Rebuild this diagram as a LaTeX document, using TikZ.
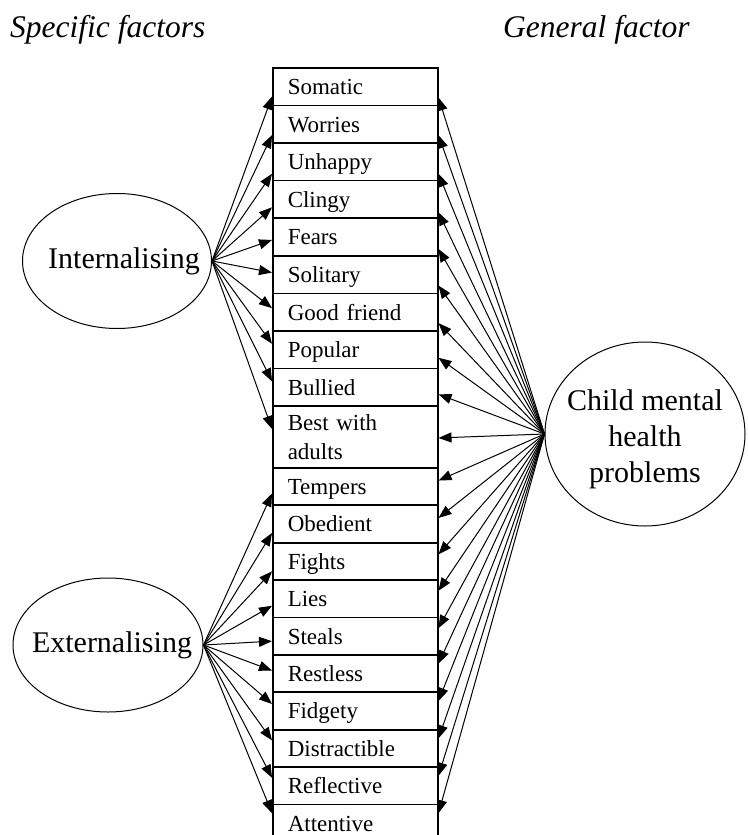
\documentclass[tikz,border=0pt]{standalone}
\usepackage{fontspec}
\setmainfont{Liberation Serif}
\usetikzlibrary{shapes.geometric,arrows.meta}

\tikzset{
  item/.style={draw, line width=1.5pt, rectangle, anchor=north west, text width=135pt,
    inner xsep=15pt, inner ysep=0pt, minimum height=37.6pt, align=left,
    text height=16pt, text depth=0pt, font=\fontsize{23}{29}\selectfont},
  factor/.style={draw, line width=1pt, ellipse, inner sep=0pt},
  factortext/.style={align=center, font=\fontsize{30}{36}\selectfont},
  load/.style={line width=1pt, -{Triangle[length=13pt,width=10pt]}},
  heading/.style={anchor=base west, inner sep=0pt, font=\fontsize{31.5}{32}\selectfont\itshape},
}

\begin{document}
\begin{tikzpicture}[x=1pt,y=-1pt]

\clip (0,0) rectangle (747,835);

% headings
\node[heading] (spec) at (10,37) {Specific factors};
\node[heading] (gen) at (503,37) {General factor};

% latent factors
\node[factor, minimum width=189pt, minimum height=135pt,
  label={[factortext, xshift=7pt]center:Internalising}] (int) at (117,261) {};
\node[factor, minimum width=190pt, minimum height=134pt,
  label={[factortext, xshift=4pt]center:Externalising}] (ext) at (108,645) {};
\node[factor, minimum width=200pt, minimum height=184pt,
  label={[factortext, yshift=-5pt]center:Child mental\\health\\problems}] (cmh) at (645,434) {};

% items
\node[item] (som) at (272,67) {Somatic};
\node[item] (wor) at (272,104.6) {Worries};
\node[item] (unh) at (272,142.2) {Unhappy};
\node[item] (cli) at (272,179.8) {Clingy};
\node[item] (fea) at (272,217.4) {Fears};
\node[item] (sol) at (272,255) {Solitary};
\node[item] (goo) at (272,292.6) {Good friend};
\node[item] (pop) at (272,330.2) {Popular};
\node[item] (bul) at (272,367.8) {Bullied};
\node[item, minimum height=61.6pt, text depth=29pt] (bes) at (272,405.4) {Best with\\adults};
\node[item] (tem) at (272,467) {Tempers};
\node[item] (obe) at (272,504.4) {Obedient};
\node[item] (fig) at (272,541.8) {Fights};
\node[item] (lie) at (272,579.2) {Lies};
\node[item] (ste) at (272,616.6) {Steals};
\node[item] (res) at (272,654) {Restless};
\node[item] (fid) at (272,691.4) {Fidgety};
\node[item] (dis) at (272,728.8) {Distractible};
\node[item] (ref) at (272,766.2) {Reflective};
\node[item] (att) at (272,803.6) {Attentive};

% internalising loadings
\draw[load] (int.east) -- ([yshift=-10pt]som.west);
\draw[load] (int.east) -- ([yshift=-11pt]wor.west);
\draw[load] (int.east) -- ([yshift=-12pt]unh.west);
\draw[load] (int.east) -- ([yshift=-8pt]cli.west);
\draw[load] (int.east) -- ([yshift=-3pt]fea.west);
\draw[load] (int.east) -- ([yshift=2pt]sol.west);
\draw[load] (int.east) -- ([yshift=4pt]goo.west);
\draw[load] (int.east) -- ([yshift=6pt]pop.west);
\draw[load] (int.east) -- ([yshift=6pt]bul.west);
\draw[load] (int.east) -- ([yshift=8pt]bes.west);

% externalising loadings
\draw[load] (ext.east) -- ([yshift=-7pt]tem.west);
\draw[load] (ext.east) -- ([yshift=-9pt]obe.west);
\draw[load] (ext.east) -- ([yshift=-10pt]fig.west);
\draw[load] (ext.east) -- ([yshift=-7pt]lie.west);
\draw[load] (ext.east) -- ([yshift=-5pt]ste.west);
\draw[load] (ext.east) -- ([yshift=3pt]res.west);
\draw[load] (ext.east) -- ([yshift=7pt]fid.west);
\draw[load] (ext.east) -- ([yshift=8pt]dis.west);
\draw[load] (ext.east) -- ([yshift=8pt]ref.west);
\draw[load] (ext.east) -- ([yshift=10pt]att.west);

% general factor loadings
\draw[load] (cmh.west) -- ([yshift=-11pt]som.east);
\draw[load] (cmh.west) -- ([yshift=-11pt]wor.east);
\draw[load] (cmh.west) -- ([yshift=-12pt]unh.east);
\draw[load] (cmh.west) -- ([yshift=-13pt]cli.east);
\draw[load] (cmh.west) -- ([yshift=-12pt]fea.east);
\draw[load] (cmh.west) -- ([yshift=-11pt]sol.east);
\draw[load] (cmh.west) -- ([yshift=-11pt]goo.east);
\draw[load] (cmh.west) -- ([yshift=-8pt]pop.east);
\draw[load] (cmh.west) -- ([yshift=-7pt]bul.east);
\draw[load] (cmh.west) -- ([yshift=-1pt]bes.east);
\draw[load] (cmh.west) -- ([yshift=6pt]tem.east);
\draw[load] (cmh.west) -- ([yshift=6pt]obe.east);
\draw[load] (cmh.west) -- ([yshift=7pt]fig.east);
\draw[load] (cmh.west) -- ([yshift=8pt]lie.east);
\draw[load] (cmh.west) -- ([yshift=8pt]ste.east);
\draw[load] (cmh.west) -- ([yshift=10pt]res.east);
\draw[load] (cmh.west) -- ([yshift=10pt]fid.east);
\draw[load] (cmh.west) -- ([yshift=10pt]dis.east);
\draw[load] (cmh.west) -- ([yshift=10pt]ref.east);
\draw[load] (cmh.west) -- ([yshift=10pt]att.east);

\end{tikzpicture}
\end{document}
